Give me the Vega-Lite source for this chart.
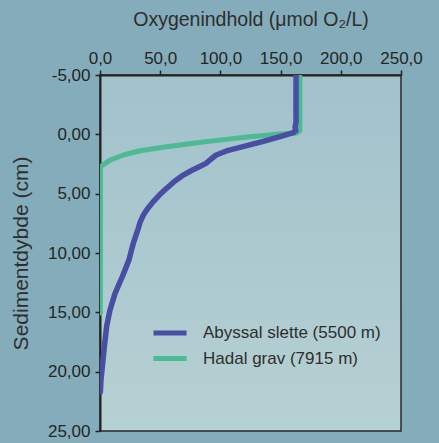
{
  "$schema": "https://vega.github.io/schema/vega-lite/v6.json",
  "width": 301,
  "height": 356,
  "autosize": "none",
  "padding": {"left": 100, "top": 75, "right": 38, "bottom": 12},
  "background": "#84acba",
  "config": {
    "font": "Liberation Sans",
    "view": {
      "fill": {"gradient": "linear", "x1": 0, "y1": 0, "x2": 0, "y2": 1, "stops": [{"offset": 0, "color": "#a2c1cb"}, {"offset": 1, "color": "#b6d1d3"}]},
      "stroke": "#2a2a2a",
      "strokeWidth": 1.5
    },
    "axis": {
      "grid": false,
      "domainColor": "#222222",
      "domainWidth": 2,
      "tickColor": "#222222",
      "tickWidth": 1.5,
      "tickSize": 5,
      "labelFont": "Liberation Sans",
      "labelFontSize": 17,
      "labelColor": "#262626",
      "titleFont": "Liberation Sans",
      "titleFontWeight": "normal",
      "titleColor": "#2e2e2e"
    },
    "legend": {
      "labelFont": "Liberation Sans",
      "labelFontSize": 17,
      "labelColor": "#2e2e2e",
      "labelLimit": 0
    }
  },
  "datasets": {
    "profiles": [
      {"serie": "Abyssal slette (5500 m)", "oxygen": 162.8, "depth": -5.0},
      {"serie": "Abyssal slette (5500 m)", "oxygen": 162.8, "depth": -1.0},
      {"serie": "Abyssal slette (5500 m)", "oxygen": 162.0, "depth": -0.6},
      {"serie": "Abyssal slette (5500 m)", "oxygen": 162.6, "depth": -0.3},
      {"serie": "Abyssal slette (5500 m)", "oxygen": 160.6, "depth": -0.15},
      {"serie": "Abyssal slette (5500 m)", "oxygen": 149.5, "depth": 0.2},
      {"serie": "Abyssal slette (5500 m)", "oxygen": 135.6, "depth": 0.6},
      {"serie": "Abyssal slette (5500 m)", "oxygen": 116.3, "depth": 1.1},
      {"serie": "Abyssal slette (5500 m)", "oxygen": 105.0, "depth": 1.4},
      {"serie": "Abyssal slette (5500 m)", "oxygen": 96.5, "depth": 1.74},
      {"serie": "Abyssal slette (5500 m)", "oxygen": 92.0, "depth": 2.1},
      {"serie": "Abyssal slette (5500 m)", "oxygen": 88.0, "depth": 2.45},
      {"serie": "Abyssal slette (5500 m)", "oxygen": 82.0, "depth": 2.75},
      {"serie": "Abyssal slette (5500 m)", "oxygen": 76.0, "depth": 3.05},
      {"serie": "Abyssal slette (5500 m)", "oxygen": 69.2, "depth": 3.43},
      {"serie": "Abyssal slette (5500 m)", "oxygen": 62.0, "depth": 3.95},
      {"serie": "Abyssal slette (5500 m)", "oxygen": 55.3, "depth": 4.55},
      {"serie": "Abyssal slette (5500 m)", "oxygen": 49.5, "depth": 5.1},
      {"serie": "Abyssal slette (5500 m)", "oxygen": 44.3, "depth": 5.67},
      {"serie": "Abyssal slette (5500 m)", "oxygen": 40.0, "depth": 6.2},
      {"serie": "Abyssal slette (5500 m)", "oxygen": 36.0, "depth": 6.8},
      {"serie": "Abyssal slette (5500 m)", "oxygen": 33.5, "depth": 7.35},
      {"serie": "Abyssal slette (5500 m)", "oxygen": 31.8, "depth": 7.92},
      {"serie": "Abyssal slette (5500 m)", "oxygen": 29.7, "depth": 8.55},
      {"serie": "Abyssal slette (5500 m)", "oxygen": 27.7, "depth": 9.18},
      {"serie": "Abyssal slette (5500 m)", "oxygen": 25.8, "depth": 9.9},
      {"serie": "Abyssal slette (5500 m)", "oxygen": 24.0, "depth": 10.6},
      {"serie": "Abyssal slette (5500 m)", "oxygen": 18.5, "depth": 12.0},
      {"serie": "Abyssal slette (5500 m)", "oxygen": 12.5, "depth": 13.4},
      {"serie": "Abyssal slette (5500 m)", "oxygen": 8.3, "depth": 14.8},
      {"serie": "Abyssal slette (5500 m)", "oxygen": 5.5, "depth": 16.2},
      {"serie": "Abyssal slette (5500 m)", "oxygen": 3.6, "depth": 17.9},
      {"serie": "Abyssal slette (5500 m)", "oxygen": 1.9, "depth": 19.6},
      {"serie": "Abyssal slette (5500 m)", "oxygen": 0.8, "depth": 20.7},
      {"serie": "Abyssal slette (5500 m)", "oxygen": 0.3, "depth": 21.7},
      {"serie": "Hadal grav (7915 m)", "oxygen": 166.0, "depth": -5.0},
      {"serie": "Hadal grav (7915 m)", "oxygen": 166.0, "depth": -0.3},
      {"serie": "Hadal grav (7915 m)", "oxygen": 163.0, "depth": -0.1},
      {"serie": "Hadal grav (7915 m)", "oxygen": 149.5, "depth": -0.02},
      {"serie": "Hadal grav (7915 m)", "oxygen": 122.0, "depth": 0.22},
      {"serie": "Hadal grav (7915 m)", "oxygen": 95.5, "depth": 0.53},
      {"serie": "Hadal grav (7915 m)", "oxygen": 77.5, "depth": 0.76},
      {"serie": "Hadal grav (7915 m)", "oxygen": 55.3, "depth": 1.04},
      {"serie": "Hadal grav (7915 m)", "oxygen": 33.2, "depth": 1.38},
      {"serie": "Hadal grav (7915 m)", "oxygen": 19.4, "depth": 1.74},
      {"serie": "Hadal grav (7915 m)", "oxygen": 8.3, "depth": 2.17},
      {"serie": "Hadal grav (7915 m)", "oxygen": 0.4, "depth": 2.73},
      {"serie": "Hadal grav (7915 m)", "oxygen": 0.3, "depth": 15.05}
    ]
  },
  "data": {"name": "profiles"},
  "encoding": {
    "x": {
      "field": "oxygen",
      "type": "quantitative",
      "scale": {"domain": [0, 250], "nice": false, "zero": false},
      "axis": {
        "orient": "top",
        "title": "Oxygenindhold (μmol O₂/L)",
        "titleFontSize": 19.5,
        "titlePadding": 20,
        "values": [0, 50, 100, 150, 200, 250],
        "labelExpr": "replace(format(datum.value, '.1f'), '.', ',')",
        "labelPadding": 3,
        "labelFlush": false,
        "labelOverlap": false
      }
    },
    "y": {
      "field": "depth",
      "type": "quantitative",
      "scale": {"domain": [-5, 25], "nice": false, "zero": false, "reverse": true},
      "axis": {
        "title": "Sedimentdybde (cm)",
        "titleFontSize": 21,
        "titlePadding": 16,
        "values": [-5, 0, 5, 10, 15, 20, 25],
        "labelExpr": "replace(replace(format(datum.value, '.2f'), '.', ','), '−', '-')",
        "labelPadding": 5,
        "labelFlush": false,
        "labelOverlap": false
      }
    },
    "order": {"field": "depth", "type": "quantitative"},
    "color": {
      "field": "serie",
      "type": "nominal",
      "scale": {
        "domain": ["Abyssal slette (5500 m)", "Hadal grav (7915 m)"],
        "range": ["#484ea1", "#4cba92"]
      },
      "legend": {
        "title": null,
        "orient": "none",
        "legendX": 51,
        "legendY": 248,
        "symbolType": "stroke",
        "symbolSize": 1089,
        "symbolStrokeWidth": 5,
        "clipHeight": 20,
        "rowPadding": 5.6,
        "labelOffset": 14
      }
    }
  },
  "layer": [
    {
      "transform": [{"filter": "datum.serie === 'Hadal grav (7915 m)'"}],
      "mark": {"type": "line", "strokeWidth": 5, "strokeCap": "round", "strokeJoin": "round", "clip": true}
    },
    {
      "transform": [{"filter": "datum.serie === 'Abyssal slette (5500 m)'"}],
      "mark": {"type": "line", "strokeWidth": 5.5, "strokeCap": "round", "strokeJoin": "round", "clip": true}
    }
  ]
}
